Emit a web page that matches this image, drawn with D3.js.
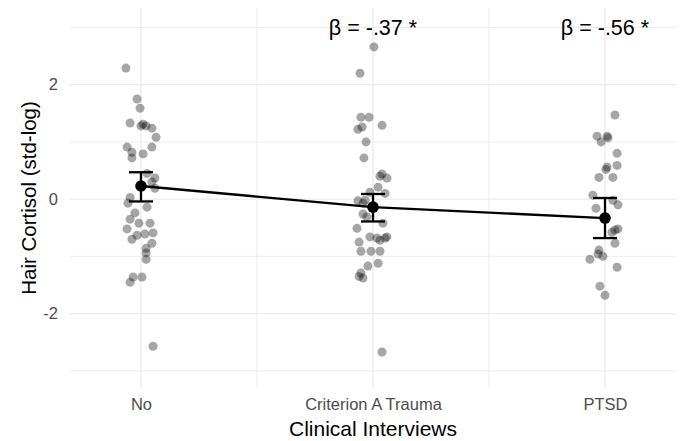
<!DOCTYPE html>
<html>
<head>
<meta charset="utf-8">
<script src="https://cdn.jsdelivr.net/npm/d3@7"></script>
<style>
  body { margin: 0; background: #fff; }
  svg { display: block; font-family: "Liberation Sans", Arial, sans-serif; }
</style>
</head>
<body>
<div id="chart"></div>
<script>
// ***** data *****
const categories = ['No', 'Criterion A Trauma', 'PTSD'];

// individual observations (value) with jitter offsets (in category units)
const noVals = [2.29, 1.75, 1.59, 1.33, 1.31, 1.28, 1.24, 1.08, 0.91, 0.82, 0.72, 0.79, 0.91, 0.45, 0.37, 0.30, 0.19, 0.03, -0.07, -0.14, -0.24, -0.35, -0.42, -0.42, -0.52, -0.70, -0.63, -0.61, -0.59, -0.77, -0.86, -0.94, -1.05, -1.45, -1.36, -1.36, -2.57, 1.28];
const noJit = [-0.065, -0.017, -0.004, -0.047, 0.009, 0.022, 0.047, 0.065, -0.060, -0.039, -0.039, 0.009, 0.047, 0.026, 0.060, 0.047, 0.060, -0.047, -0.056, 0.026, -0.026, -0.047, -0.009, 0.039, -0.060, -0.039, -0.017, 0.017, 0.052, 0.047, 0.022, 0.022, 0.022, -0.047, -0.034, 0.004, 0.052, 0.000];

const traumaVals = [2.66, 2.20, 1.43, 1.43, 1.22, 1.26, 1.29, 1.00, 0.72, 0.44, 0.40, 0.37, 0.21, 0.10, -0.03, -0.02, -0.12, 0.12, -0.07, -0.26, -0.31, -0.42, -0.51, -0.66, -0.68, -0.68, -0.66, -0.75, -0.72, -0.91, -0.91, -0.91, -1.12, -1.17, -1.29, -1.38, -1.35, -2.67];
const traumaJit = [0.004, -0.056, -0.052, -0.017, -0.065, -0.047, 0.039, -0.030, -0.039, 0.039, 0.030, 0.060, 0.022, 0.052, -0.065, -0.034, 0.000, -0.013, -0.043, -0.043, -0.026, 0.043, -0.069, -0.013, 0.017, 0.052, 0.060, -0.060, 0.030, -0.052, -0.009, 0.030, 0.022, -0.022, -0.052, -0.043, -0.060, 0.039];

const ptsdVals = [1.47, 1.10, 1.10, 1.07, 1.00, 0.80, 0.59, 0.56, 0.52, 0.38, 0.38, 0.07, -0.02, -0.16, -0.10, -0.54, -0.52, -0.58, -0.77, -0.89, -0.96, -1.00, -1.05, -1.19, -1.52, -1.68];
const ptsdJit = [0.043, -0.034, 0.009, 0.013, -0.017, 0.052, 0.052, 0.009, 0.004, -0.026, 0.034, -0.052, 0.034, -0.039, 0.056, 0.043, 0.056, 0.030, 0.043, -0.026, -0.030, -0.009, -0.065, 0.052, -0.022, 0.000];

// group means and error bars
const means = [0.23, -0.14, -0.33];
const lower = [-0.04, -0.39, -0.68];
const upper = [0.47, 0.09, 0.02];

// annotations
const annoCats = ['Criterion A Trauma', 'PTSD'];
const annoText = ['β = -.37 *', 'β = -.56 *'];
const annoY = 3;

const yTicks = [-2, 0, 2];
const yMinor = [-3, -1, 1, 3];

// ***** layout *****
const width = 680;
const height = 441;
const padLeft = 70;
const padRight = 676;
const padTop = 8;
const padBottom = 388;
const gridColor = '#ebebeb';

const svg = d3.select('#chart').append('svg')
    .attr('width', width)
    .attr('height', height);

const xScale = d3.scalePoint()
    .domain(categories)
    .range([padLeft, padRight])
    .padding(0.306);

const yScale = d3.scaleLinear()
    .domain([-3.30, 3.34])
    .range([padBottom, padTop]);

const step = xScale.step();

// grid
const grid = svg.append('g');
grid.selectAll('.ymin').data(yMinor).enter().append('line')
    .attr('x1', padLeft).attr('x2', padRight)
    .attr('y1', (d) => yScale(d)).attr('y2', (d) => yScale(d))
    .attr('stroke', gridColor).attr('stroke-width', 0.9);
grid.selectAll('.ymaj').data(yTicks).enter().append('line')
    .attr('x1', padLeft).attr('x2', padRight)
    .attr('y1', (d) => yScale(d)).attr('y2', (d) => yScale(d))
    .attr('stroke', gridColor).attr('stroke-width', 1.3);
const xMid = categories.slice(1).map((c) => xScale(c) - step / 2);
grid.selectAll('.xmin').data(xMid).enter().append('line')
    .attr('x1', (d) => d).attr('x2', (d) => d)
    .attr('y1', padTop).attr('y2', padBottom)
    .attr('stroke', gridColor).attr('stroke-width', 0.9);
grid.selectAll('.xmaj').data(categories).enter().append('line')
    .attr('x1', (d) => xScale(d)).attr('x2', (d) => xScale(d))
    .attr('y1', padTop).attr('y2', padBottom)
    .attr('stroke', gridColor).attr('stroke-width', 1.3);

// axes (text only, like theme_minimal)
const yAxis = d3.axisLeft(yScale)
    .tickValues(yTicks)
    .tickFormat((d) => String(d))
    .tickSize(0)
    .tickPadding(12);
svg.append('g')
    .attr('transform', `translate(${padLeft},0)`)
    .call(yAxis)
    .call((g) => g.select('.domain').remove())
    .call((g) => g.selectAll('text').attr('fill', '#4d4d4d').attr('font-size', 16.5).attr('font-family', null));

const xAxis = d3.axisBottom(xScale).tickSize(0).tickPadding(10);
svg.append('g')
    .attr('transform', `translate(0,${padBottom})`)
    .call(xAxis)
    .call((g) => g.select('.domain').remove())
    .call((g) => g.selectAll('text').attr('fill', '#4d4d4d').attr('font-size', 16.5).attr('font-family', null));

// titles
svg.append('text')
    .attr('x', (padLeft + padRight) / 2)
    .attr('y', 436)
    .attr('text-anchor', 'middle')
    .attr('font-size', 21)
    .text('Clinical Interviews');
svg.append('text')
    .attr('transform', `translate(36,${(padTop + padBottom) / 2}) rotate(-90)`)
    .attr('text-anchor', 'middle')
    .attr('font-size', 20.5)
    .text('Hair Cortisol (std-log)');

// jittered points
const groups = [
    { cat: categories[0], vals: noVals, jit: noJit },
    { cat: categories[1], vals: traumaVals, jit: traumaJit },
    { cat: categories[2], vals: ptsdVals, jit: ptsdJit },
];
const pts = svg.append('g');
groups.forEach((g) => {
    pts.selectAll(null).data(g.vals).enter().append('circle')
        .attr('cx', (d, i) => xScale(g.cat) + g.jit[i] * step)
        .attr('cy', (d) => yScale(d))
        .attr('r', 4.5)
        .attr('fill', '#000')
        .attr('fill-opacity', 0.35);
});

// mean line
const meanData = categories.map((c, i) => ({ c, m: means[i], lo: lower[i], hi: upper[i] }));
const line = d3.line()
    .x((d) => xScale(d.c))
    .y((d) => yScale(d.m));
svg.append('path')
    .attr('d', line(meanData))
    .attr('fill', 'none')
    .attr('stroke', '#000')
    .attr('stroke-width', 2.3);

// error bars
const capW = 12;
const eb = svg.append('g').attr('stroke', '#000').attr('stroke-width', 2.3);
eb.selectAll('.v').data(meanData).enter().append('line')
    .attr('x1', (d) => xScale(d.c)).attr('x2', (d) => xScale(d.c))
    .attr('y1', (d) => yScale(d.lo)).attr('y2', (d) => yScale(d.hi));
eb.selectAll('.t').data(meanData).enter().append('line')
    .attr('x1', (d) => xScale(d.c) - capW).attr('x2', (d) => xScale(d.c) + capW)
    .attr('y1', (d) => yScale(d.hi)).attr('y2', (d) => yScale(d.hi));
eb.selectAll('.b').data(meanData).enter().append('line')
    .attr('x1', (d) => xScale(d.c) - capW).attr('x2', (d) => xScale(d.c) + capW)
    .attr('y1', (d) => yScale(d.lo)).attr('y2', (d) => yScale(d.lo));

svg.append('g').selectAll('circle').data(meanData).enter().append('circle')
    .attr('cx', (d) => xScale(d.c))
    .attr('cy', (d) => yScale(d.m))
    .attr('r', 5.8)
    .attr('fill', '#000');

// annotations
svg.append('g').selectAll('text').data(annoCats).enter().append('text')
    .attr('x', (d) => xScale(d))
    .attr('y', yScale(annoY))
    .attr('dy', '0.35em')
    .attr('text-anchor', 'middle')
    .attr('font-size', 21.5)
    .text((d, i) => annoText[i]);
</script>
</body>
</html>
